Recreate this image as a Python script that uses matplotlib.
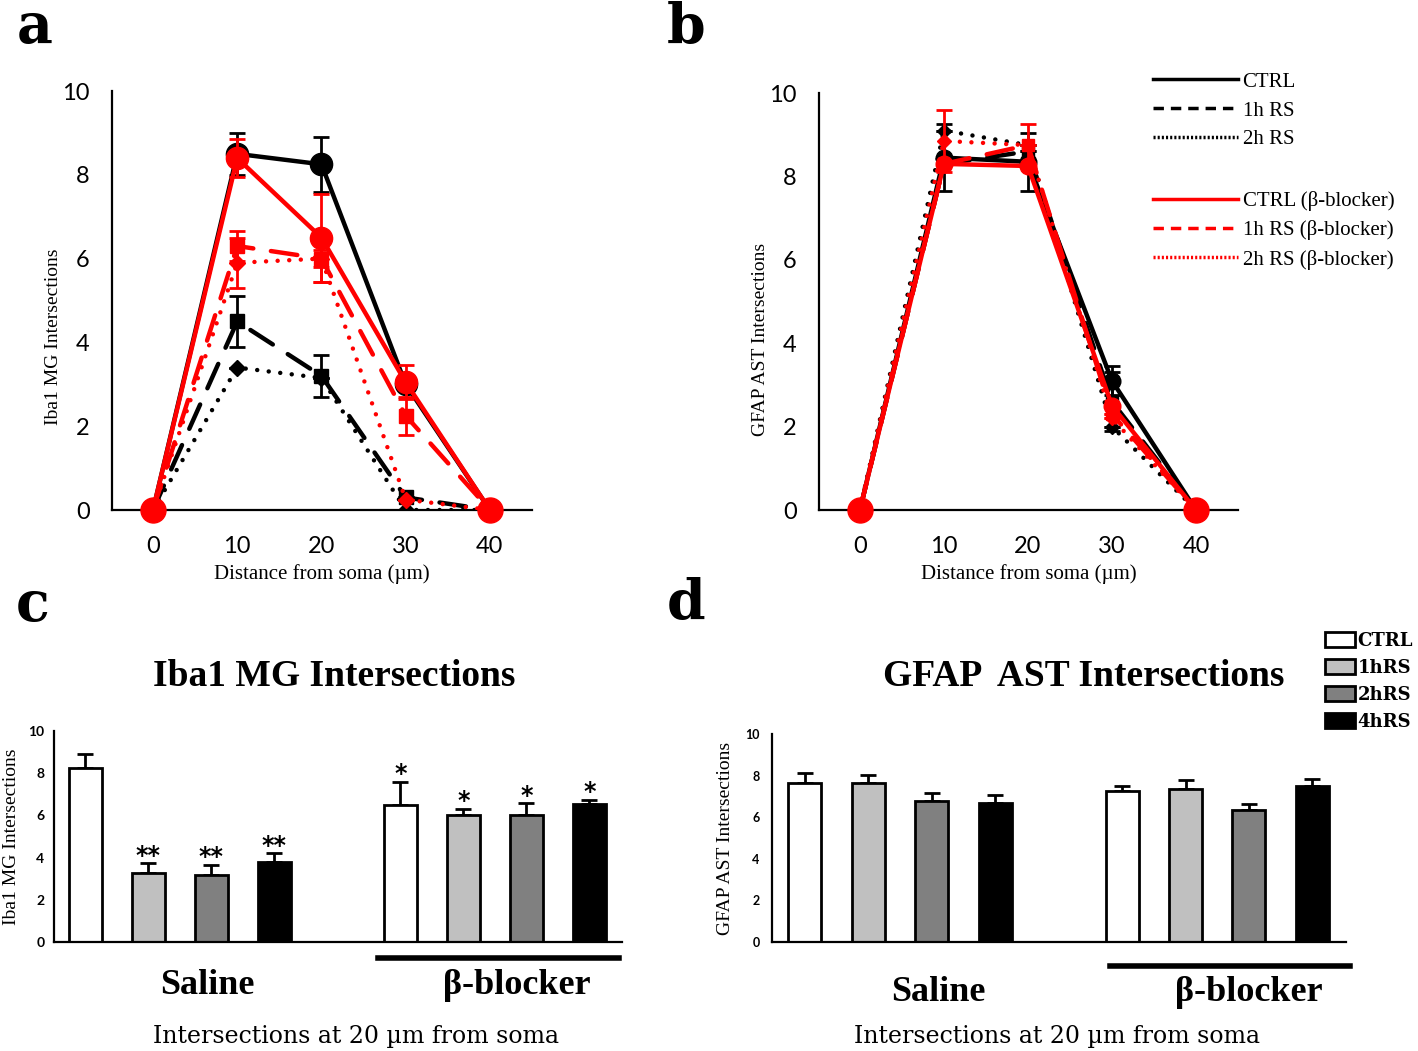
import matplotlib
matplotlib.use("Agg")
import matplotlib.pyplot as plt
from matplotlib.lines import Line2D

W, H = 1418, 1051

# ---- data: panel a (Iba1 MG, Sholl) ----
dist = [0, 10, 20, 30, 40]
a_ctrl = [0, 8.5, 8.25, 3.0, 0]
a_rs1 = [0, 4.5, 3.2, 0.3, 0]
a_rs2 = [0, 3.4, 3.15, 0.0, 0]
a_ctrl_b = [0, 8.4, 6.5, 3.05, 0]
a_rs1_b = [0, 6.3, 6.0, 2.25, 0]
a_rs2_b = [0, 5.9, 6.0, 0.25, 0]
a_ctrl_err = [0, 0.5, 0.65, 0, 0]
a_rs1_err = [0, 0.6, 0.5, 0, 0]
a_rs2_err = [0, 0, 0, 0, 0]
a_ctrl_b_err = [0, 0.45, 1.05, 0.4, 0]
a_rs1_b_err = [0, 0.35, 0.55, 0.45, 0]
a_rs2_b_err = [0, 0.6, 0.2, 0, 0]

# ---- data: panel b (GFAP AST, Sholl) ----
b_ctrl = [0, 8.45, 8.35, 3.1, 0]
b_rs1 = [0, 8.3, 8.6, 2.6, 0]
b_rs2 = [0, 9.1, 8.75, 2.0, 0]
b_ctrl_b = [0, 8.3, 8.25, 2.5, 0]
b_rs1_b = [0, 8.3, 8.75, 2.3, 0]
b_rs2_b = [0, 8.85, 8.75, 2.2, 0]
b_ctrl_err = [0, 0.8, 0.7, 0.35, 0]
b_rs1_err = [0, 0, 0, 0.7, 0]
b_rs2_err = [0, 0, 0, 0, 0]
b_ctrl_b_err = [0, 0, 0, 0, 0]
b_rs1_b_err = [0, 0, 0, 0, 0]
b_rs2_b_err = [0, 0.75, 0.5, 0, 0]

# ---- data: panels c, d (intersections at 20 um) ----
groups = ["CTRL", "1hRS", "2hRS", "4hRS"]
c_saline = [8.25, 3.28, 3.17, 3.8]
c_saline_err = [0.68, 0.45, 0.47, 0.4]
c_beta = [6.5, 6.02, 6.02, 6.52]
c_beta_err = [1.07, 0.29, 0.55, 0.22]
c_saline_stars = ["", "**", "**", "**"]
c_beta_stars = ["*", "*", "*", "*"]
d_saline = [7.63, 7.65, 6.78, 6.67]
d_saline_err = [0.51, 0.4, 0.39, 0.39]
d_beta = [7.25, 7.36, 6.36, 7.51]
d_beta_err = [0.25, 0.45, 0.29, 0.33]

bar_colors = ["white", "#c0c0c0", "#808080", "black"]

SERIF = "Liberation Serif"
SANS = "Lato"


def box(l, t, r, b):
    return [l / W, 1 - b / H, (r - l) / W, (b - t) / H]


def style_axes(ax):
    for s in ["top", "right"]:
        ax.spines[s].set_visible(False)
    for s in ["left", "bottom"]:
        ax.spines[s].set_linewidth(1.6)
    ax.tick_params(length=0)


fig = plt.figure(figsize=(W / 100, H / 100), dpi=100)

dotted = (0, (0.01, 2.6))
dashed = (0, (6, 4))


def sholl(ax, series, big_ends):
    for y, err, color, ls, marker, ms in series:
        ax.errorbar(dist, y, yerr=err, color=color, ecolor=color, lw=3.2,
                    linestyle=ls, dash_capstyle="round", marker=marker, markersize=ms,
                    elinewidth=2, capsize=6, capthick=2, zorder=3 if color == "red" else 2)
    ax.plot([dist[0], dist[-1]], [series[3][0][0], series[3][0][-1]], "o", color="red",
            markersize=big_ends, linestyle="none", zorder=5, clip_on=False)
    ax.set_xlim(-4.87, 45)
    ax.set_ylim(0, 10)
    ax.set_xticks(dist)
    ax.set_yticks(range(0, 11, 2))
    style_axes(ax)
    ax.tick_params(labelsize=17)
    ax.tick_params(axis="x", pad=19)
    ax.tick_params(axis="y", pad=16)
    for t in ax.get_xticklabels() + ax.get_yticklabels():
        t.set_fontfamily(SANS)
    ax.set_xlabel("Distance from soma (\u00b5m)", family=SERIF, fontsize=15, labelpad=5)


# panel a
ax_a = fig.add_axes(box(112, 91, 532, 510))
sholl(ax_a, [
    (a_ctrl, a_ctrl_err, "black", "-", "o", 16),
    (a_rs1, a_rs1_err, "black", dashed, "s", 10),
    (a_rs2, a_rs2_err, "black", dotted, "D", 8),
    (a_ctrl_b, a_ctrl_b_err, "red", "-", "o", 16),
    (a_rs1_b, a_rs1_b_err, "red", dashed, "s", 10),
    (a_rs2_b, a_rs2_b_err, "red", dotted, "D", 8),
], 18)
ax_a.set_ylabel("Iba1 MG Intersections", family=SERIF, fontsize=14)
ax_a.yaxis.set_label_coords(-0.119, 0.413)

# panel b
ax_b = fig.add_axes(box(819, 93, 1238, 510))
sholl(ax_b, [
    (b_ctrl, b_ctrl_err, "black", "-", "o", 12),
    (b_rs1, b_rs1_err, "black", dashed, "s", 8),
    (b_rs2, b_rs2_err, "black", dotted, "D", 7),
    (b_ctrl_b, b_ctrl_b_err, "red", "-", "o", 12),
    (b_rs1_b, b_rs1_b_err, "red", dashed, "s", 8),
    (b_rs2_b, b_rs2_b_err, "red", dotted, "D", 7),
], 18)
ax_b.set_ylabel("GFAP AST Intersections", family=SERIF, fontsize=14)
ax_b.yaxis.set_label_coords(-0.12, 0.41)

leg_kw = dict(frameon=False, handlelength=4.1, handletextpad=0.2,
              labelspacing=0.45, borderpad=0, borderaxespad=0, loc="upper left",
              bbox_transform=fig.transFigure, prop={"family": SERIF, "size": 15})
black_h = [Line2D([], [], color="black", lw=2.5, ls="-"),
           Line2D([], [], color="black", lw=2.5, ls=(0, (3, 2))),
           Line2D([], [], color="black", lw=2.5, ls=(0, (0.6, 0.6)))]
red_h = [Line2D([], [], color="red", lw=2.5, ls="-"),
         Line2D([], [], color="red", lw=2.5, ls=(0, (3, 2))),
         Line2D([], [], color="red", lw=2.5, ls=(0, (0.6, 0.6)))]
leg1 = ax_b.legend(black_h, ["CTRL", "1h RS", "2h RS"],
                   bbox_to_anchor=(1153 / W, 1 - 72 / H), **leg_kw)
ax_b.add_artist(leg1)
ax_b.legend(red_h, ["CTRL (\u03b2-blocker)", "1h RS (\u03b2-blocker)", "2h RS (\u03b2-blocker)"],
            bbox_to_anchor=(1153 / W, 1 - 191 / H), **leg_kw)


# panels c, d
def bars(ax, saline, saline_err, beta, beta_err, tick_size, tick_pad, xlim):
    pos_s = [0, 1, 2, 3]
    pos_b = [5, 6, 7, 8]
    handles = []
    for i in range(4):
        for p, v, e in [(pos_s[i], saline[i], saline_err[i]), (pos_b[i], beta[i], beta_err[i])]:
            h = ax.bar(p, v, width=0.52, color=bar_colors[i], edgecolor="black", linewidth=2,
                       label=groups[i], zorder=2)
            ax.errorbar(p, v, yerr=[[0], [e]], color="black", elinewidth=2, capsize=6,
                        capthick=2, zorder=1)
        handles.append(h)
    ax.set_xlim(*xlim)
    ax.set_ylim(0, 10)
    ax.set_xticks([])
    ax.set_yticks(range(0, 11, 2))
    style_axes(ax)
    ax.tick_params(labelsize=tick_size, pad=tick_pad)
    for t in ax.get_yticklabels():
        t.set_fontfamily(SANS)
        t.set_fontweight("bold")
    return pos_s, pos_b, handles


ax_c = fig.add_axes(box(54, 731, 622, 942))
ps, pb, _ = bars(ax_c, c_saline, c_saline_err, c_beta, c_beta_err, 10, 7, (-0.5, 8.52))
for p, v, e, s in zip(ps, c_saline, c_saline_err, c_saline_stars):
    ax_c.text(p, v + e - 0.2, s, ha="center", va="bottom", fontsize=17, fontweight="bold",
              family="DejaVu Sans")
for p, v, e, s in zip(pb, c_beta, c_beta_err, c_beta_stars):
    ax_c.text(p, v + e - 0.2, s, ha="center", va="bottom", fontsize=17, fontweight="bold",
              family="DejaVu Sans")
ax_c.set_ylabel("Iba1 MG Intersections", family=SERIF, fontsize=14, labelpad=6)
ax_c.plot([4.64, 8.48], [-0.78, -0.78], color="black", lw=4, clip_on=False)
ax_c.text(1.93, -2.05, "Saline", ha="center", va="center", family=SERIF, fontsize=26,
          fontweight="bold")
ax_c.text(6.85, -2.05, "\u03b2-blocker", ha="center", va="center", family=SERIF, fontsize=26,
          fontweight="bold")

ax_d = fig.add_axes(box(772, 734, 1346, 942))
ps, pb, handles = bars(ax_d, d_saline, d_saline_err, d_beta, d_beta_err, 9, 9, (-0.52, 8.53))
ax_d.set_ylabel("GFAP AST Intersections", family=SERIF, fontsize=14, labelpad=8)
ax_d.plot([4.81, 8.6], [-1.15, -1.15], color="black", lw=4, clip_on=False)
ax_d.text(2.1, -2.45, "Saline", ha="center", va="center", family=SERIF, fontsize=26,
          fontweight="bold")
ax_d.text(6.99, -2.45, "\u03b2-blocker", ha="center", va="center", family=SERIF, fontsize=26,
          fontweight="bold")
fig.legend(handles, groups, loc="upper left", bbox_to_anchor=(1325 / W, 1 - 632 / H),
           frameon=False, prop={"family": "DejaVu Serif", "size": 13, "weight": "bold"},
           handlelength=1.65, handleheight=0.9, handletextpad=0.15, labelspacing=0.5,
           borderpad=0, borderaxespad=0)

# titles, labels, panel letters
fig.text(334 / W, 1 - 676 / H, "Iba1 MG Intersections", ha="center", va="center",
         family=SERIF, fontsize=27, fontweight="bold")
fig.text(1084 / W, 1 - 676 / H, "GFAP  AST Intersections", ha="center", va="center",
         family=SERIF, fontsize=27, fontweight="bold")
fig.text(356 / W, 1 - 1036 / H, "Intersections at 20 \u00b5m from soma", ha="center",
         va="center", family="DejaVu Serif", fontsize=17)
fig.text(1057 / W, 1 - 1036 / H, "Intersections at 20 \u00b5m from soma", ha="center",
         va="center", family="DejaVu Serif", fontsize=17)
for letter, x, y in [("a", 35, 28), ("b", 686, 28), ("c", 33, 605), ("d", 686, 605)]:
    fig.text(x / W, 1 - y / H, letter, ha="center", va="center", family="DejaVu Serif",
             fontsize=40, fontweight="bold")

fig.savefig("out.png", dpi=100)
